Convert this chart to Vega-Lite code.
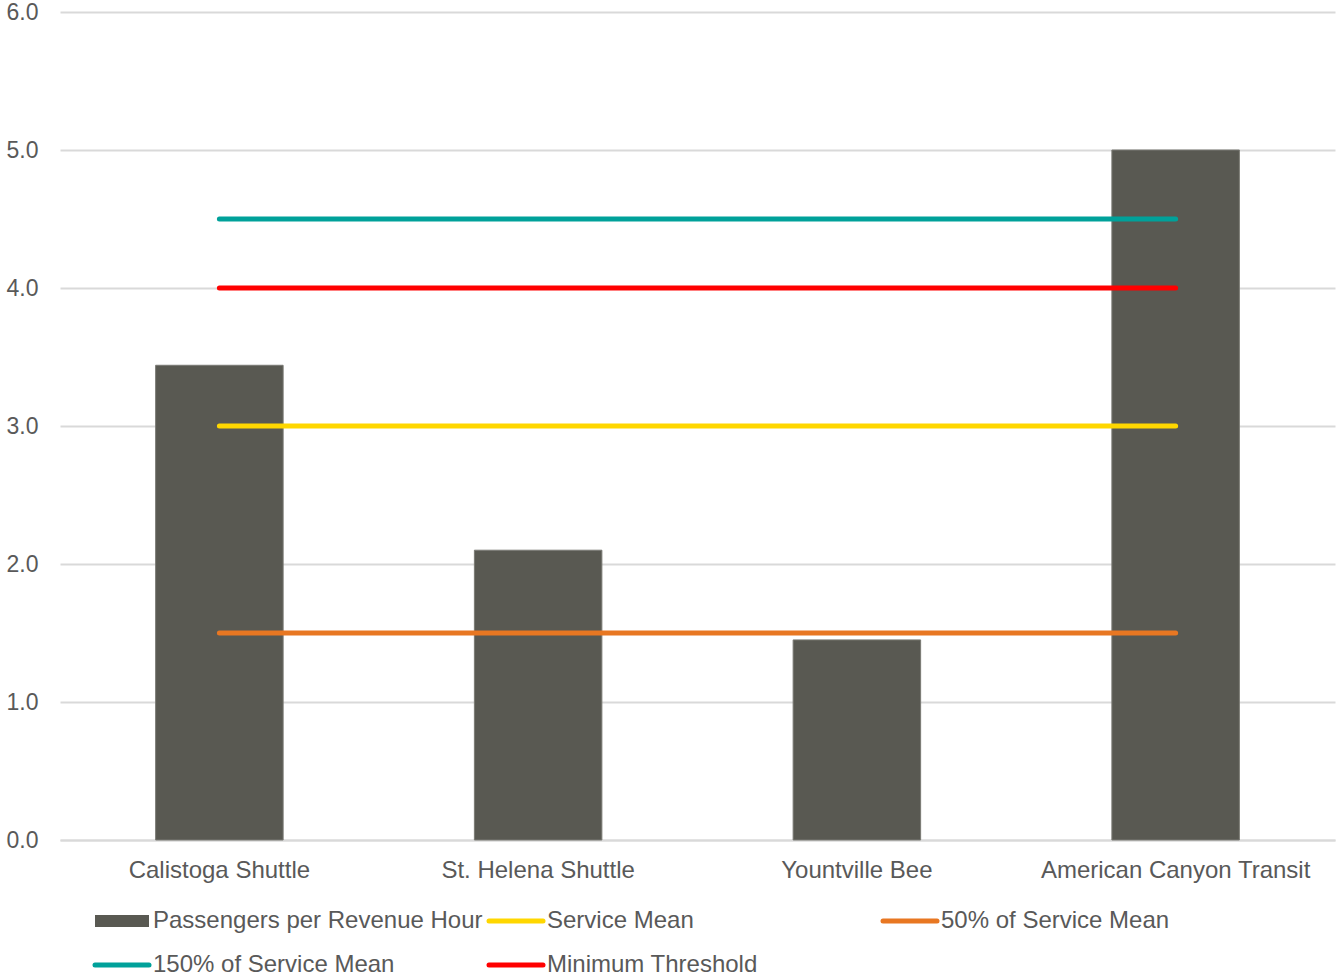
{
  "$schema": "https://vega.github.io/schema/vega-lite/v6.json",
  "width": 1275,
  "height": 828,
  "autosize": {"type": "none"},
  "padding": {"left": 60, "top": 12, "right": 4, "bottom": 140},
  "background": "white",
  "config": {
    "view": {"stroke": null},
    "font": "Liberation Sans",
    "axis": {"labelFont": "Liberation Sans", "labelColor": "#595959", "labelFontSize": 23}
  },
  "data": {"values": [
    {"route": "Calistoga Shuttle", "series": "Passengers per Revenue Hour", "value": 3.44},
    {"route": "St. Helena Shuttle", "series": "Passengers per Revenue Hour", "value": 2.1},
    {"route": "Yountville Bee", "series": "Passengers per Revenue Hour", "value": 1.45},
    {"route": "American Canyon Transit", "series": "Passengers per Revenue Hour", "value": 5.0},
    {"route": "Calistoga Shuttle", "series": "Service Mean", "value": 3.0},
    {"route": "St. Helena Shuttle", "series": "Service Mean", "value": 3.0},
    {"route": "Yountville Bee", "series": "Service Mean", "value": 3.0},
    {"route": "American Canyon Transit", "series": "Service Mean", "value": 3.0},
    {"route": "Calistoga Shuttle", "series": "50% of Service Mean", "value": 1.5},
    {"route": "St. Helena Shuttle", "series": "50% of Service Mean", "value": 1.5},
    {"route": "Yountville Bee", "series": "50% of Service Mean", "value": 1.5},
    {"route": "American Canyon Transit", "series": "50% of Service Mean", "value": 1.5},
    {"route": "Calistoga Shuttle", "series": "150% of Service Mean", "value": 4.5},
    {"route": "St. Helena Shuttle", "series": "150% of Service Mean", "value": 4.5},
    {"route": "Yountville Bee", "series": "150% of Service Mean", "value": 4.5},
    {"route": "American Canyon Transit", "series": "150% of Service Mean", "value": 4.5},
    {"route": "Calistoga Shuttle", "series": "Minimum Threshold", "value": 4.0},
    {"route": "St. Helena Shuttle", "series": "Minimum Threshold", "value": 4.0},
    {"route": "Yountville Bee", "series": "Minimum Threshold", "value": 4.0},
    {"route": "American Canyon Transit", "series": "Minimum Threshold", "value": 4.0}
  ]},
  "encoding": {
    "x": {
      "field": "route", "type": "nominal",
      "sort": ["Calistoga Shuttle", "St. Helena Shuttle", "Yountville Bee", "American Canyon Transit"],
      "scale": {"paddingInner": 0.6, "paddingOuter": 0.3},
      "axis": {"title": null, "labelAngle": 0, "ticks": false, "domainColor": "#d9d9d9", "domainWidth": 2, "labelPadding": 18, "labelFontSize": 24, "labelLimit": 0}
    },
    "y": {
      "field": "value", "type": "quantitative",
      "scale": {"domain": [0, 6], "nice": false},
      "axis": {"title": null, "values": [0, 1, 2, 3, 4, 5, 6], "format": ".1f", "domain": false, "ticks": false, "gridColor": "#d9d9d9", "gridWidth": 2, "labelPadding": 22, "labelFontSize": 23}
    },
    "color": {
      "field": "series", "type": "nominal",
      "scale": {
        "domain": ["Passengers per Revenue Hour", "Service Mean", "50% of Service Mean", "150% of Service Mean", "Minimum Threshold"],
        "range": ["#595952", "#ffd700", "#e87722", "#00a19a", "#ff0000"]
      },
      "legend": {
        "title": null,
        "orient": "none",
        "legendX": 50,
        "legendY": 897,
        "direction": "horizontal",
        "columns": 3,
        "gridAlign": "all",
        "columnPadding": -4,
        "rowPadding": 20,
        "labelFont": "Liberation Sans",
        "labelFontSize": 24,
        "labelColor": "#595959",
        "labelOffset": 19,
        "symbolSize": 2916,
        "symbolStrokeWidth": 5,
        "labelLimit": 400,
        "encode": {
          "symbols": {"update": {
            "shape": {"signal": "datum.value === 'Passengers per Revenue Hour' ? 'M-1,-0.22H1V0.22H-1Z' : 'stroke'"},
            "fill": {"scale": "color", "field": "value"},
            "stroke": {"scale": "color", "field": "value"},
            "strokeWidth": {"signal": "datum.value === 'Passengers per Revenue Hour' ? 0 : 5"},
            "strokeCap": {"value": "round"},
            "opacity": {"value": 1}
          }}
        }
      }
    }
  },
  "layer": [
    {
      "transform": [{"filter": "datum.series === 'Passengers per Revenue Hour'"}],
      "mark": {"type": "bar", "stroke": "#7a7a74", "strokeWidth": 1}
    },
    {
      "transform": [{"filter": "datum.series !== 'Passengers per Revenue Hour'"}],
      "mark": {"type": "line", "strokeWidth": 5, "strokeCap": "round"}
    }
  ]
}
